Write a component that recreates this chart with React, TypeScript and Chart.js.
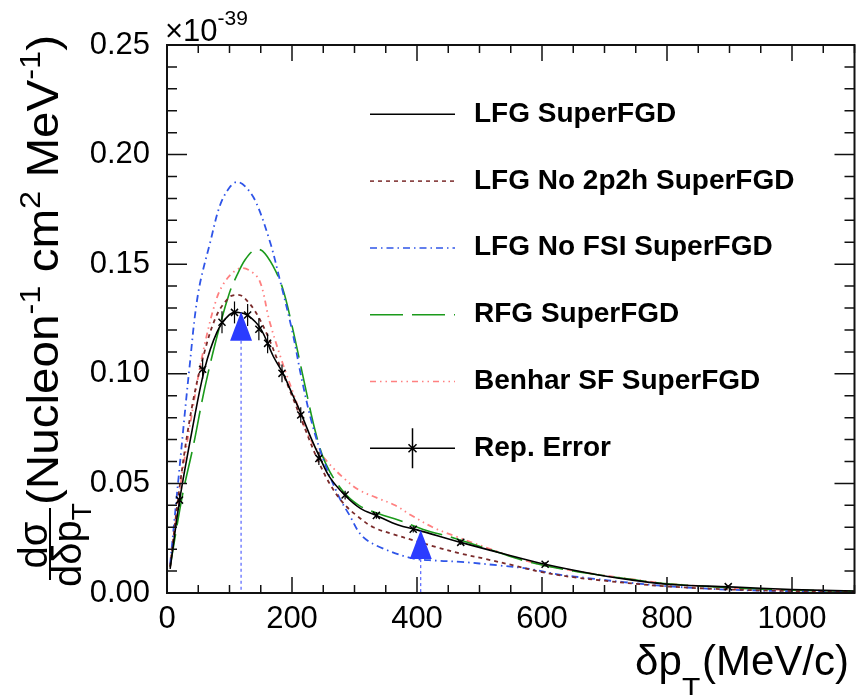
import React, { useEffect, useRef } from 'react';
import { Chart, registerables } from 'chart.js';
Chart.register(...registerables);

const FONT = '"Liberation Sans", Arial, Helvetica, sans-serif';

// x axis (MeV/c) and y axis (x10^-39) ranges / ticks
const xTickStep = 200;
const yTickStep = 0.05;

// LFG SuperFGD (black solid)
const lfgX = [5, 20, 40, 60, 80, 100, 115, 130, 150, 170, 185, 200, 215, 230, 245, 260, 285, 310, 335, 370, 400, 470, 540, 605, 680, 740, 800, 900, 1000, 1100];
const lfgY = [0.011, 0.042, 0.074, 0.102, 0.119, 0.127, 0.128, 0.1265, 0.1205, 0.108, 0.1005, 0.091, 0.0815, 0.071, 0.0615, 0.053, 0.0445, 0.0385, 0.0354, 0.031, 0.0288, 0.0231, 0.0178, 0.0131, 0.0088, 0.0061, 0.0040, 0.0028, 0.0016, 0.0009];

// LFG No 2p2h SuperFGD (dark red dashed)
const no2p2hX = [5, 20, 40, 60, 80, 100, 110, 120, 140, 160, 180, 200, 220, 240, 260, 282, 305, 330, 360, 395, 430, 470, 510, 556, 600, 650, 700, 750, 800, 900, 1000, 1100];
const no2p2hY = [0.012, 0.048, 0.085, 0.110, 0.127, 0.135, 0.136, 0.1355, 0.129, 0.118, 0.104, 0.090, 0.0755, 0.0615, 0.050, 0.041, 0.035, 0.030, 0.027, 0.024, 0.021, 0.018, 0.0155, 0.0125, 0.0095, 0.0072, 0.0056, 0.0042, 0.0030, 0.0016, 0.0009, 0.0005];

// LFG No FSI SuperFGD (blue dash-dot)
const noFsiX = [5, 20, 36, 50, 70, 85, 100, 112, 125, 142, 165, 180, 200, 216, 232, 250, 275, 292, 312, 340, 390, 430, 470, 530, 580, 625, 680, 730, 800, 900, 1000, 1100];
const noFsiY = [0.013, 0.057, 0.103, 0.137, 0.161, 0.177, 0.185, 0.1875, 0.1855, 0.1785, 0.160, 0.1435, 0.120, 0.097, 0.0774, 0.061, 0.044, 0.0355, 0.026, 0.021, 0.016, 0.0148, 0.0142, 0.0126, 0.0110, 0.0085, 0.0066, 0.0050, 0.0031, 0.0015, 0.0008, 0.0005];

// RFG SuperFGD (green long dash)
const rfgX = [5, 25, 42, 60, 80, 100, 112, 125, 140, 153, 170, 185, 200, 222, 238, 254, 280, 307, 340, 370, 410, 460, 520, 577, 650, 736, 800, 900, 1000, 1100];
const rfgY = [0.012, 0.045, 0.067, 0.093, 0.117, 0.137, 0.145, 0.152, 0.1565, 0.156, 0.149, 0.139, 0.122, 0.093, 0.073, 0.059, 0.047, 0.040, 0.036, 0.0333, 0.029, 0.025, 0.0195, 0.0143, 0.0100, 0.0065, 0.0042, 0.0024, 0.0013, 0.0008];

// Benhar SF SuperFGD (pink dash-dot-dot)
const benharX = [5, 20, 40, 57, 79, 95, 115, 130, 148, 164, 185, 206, 227, 254, 286, 307, 335, 365, 390, 425, 460, 520, 577, 650, 736, 800, 900, 1000, 1100];
const benharY = [0.012, 0.046, 0.082, 0.109, 0.134, 0.143, 0.148, 0.1475, 0.1425, 0.124, 0.1048, 0.088, 0.0713, 0.0607, 0.0516, 0.047, 0.0435, 0.040, 0.0356, 0.030, 0.026, 0.0198, 0.0145, 0.0102, 0.0066, 0.0043, 0.0024, 0.0013, 0.0008];

// Rep. Error points
const repX = [20, 57, 88, 108, 129, 147, 161, 184, 214, 243, 285, 335, 394, 470, 605, 898];
const repY = [0.0424, 0.1021, 0.1235, 0.128, 0.1268, 0.1203, 0.1139, 0.1002, 0.0812, 0.0614, 0.0447, 0.0354, 0.0291, 0.0231, 0.0131, 0.0029];
const repErr = [0.003, 0.0045, 0.005, 0.005, 0.005, 0.005, 0.0045, 0.004, 0.0035, 0.003, 0.002, 0.0015, 0.0015, 0.0012, 0.001, 0.0006];

// blue arrows (position, tip height)
const arrowX = [118.5, 406];
const arrowY = [0.1283, 0.0287];

const legendLabels = ['LFG SuperFGD', 'LFG No 2p2h SuperFGD', 'LFG No FSI SuperFGD', 'RFG SuperFGD', 'Benhar SF SuperFGD', 'Rep. Error'];

const pts = (xs: number[], ys: number[]) => xs.map((x, i) => ({ x, y: ys[i] }));

type Seg = { t: string; s: number; dy?: number; bold?: boolean };
function drawRich(ctx: CanvasRenderingContext2D, segs: Seg[], x: number, y: number) {
  let cx = x;
  for (const g of segs) {
    ctx.font = `${g.bold ? 'bold ' : ''}${g.s}px ${FONT}`;
    ctx.fillText(g.t, cx, y + (g.dy || 0));
    cx += ctx.measureText(g.t).width;
  }
  return cx - x;
}
function richWidth(ctx: CanvasRenderingContext2D, segs: Seg[]) {
  let w = 0;
  for (const g of segs) {
    ctx.font = `${g.bold ? 'bold ' : ''}${g.s}px ${FONT}`;
    w += ctx.measureText(g.t).width;
  }
  return w;
}

const rootStyle = {
  id: 'rootStyle',
  afterDatasetsDraw(chart: any) {
    const { ctx, chartArea: a, scales } = chart;
    const xs = scales.x, ys = scales.y;
    ctx.save();
    // error bars
    ctx.strokeStyle = '#000';
    ctx.lineWidth = 1.2;
    repX.forEach((v, i) => {
      const px = xs.getPixelForValue(v);
      ctx.beginPath();
      ctx.moveTo(px, ys.getPixelForValue(repY[i] - repErr[i]));
      ctx.lineTo(px, ys.getPixelForValue(repY[i] + repErr[i]));
      ctx.stroke();
    });
    // arrows
    arrowX.forEach((v, i) => {
      const px = xs.getPixelForValue(v);
      const py = ys.getPixelForValue(arrowY[i]);
      ctx.strokeStyle = '#3344ff';
      ctx.lineWidth = 1;
      ctx.setLineDash([3, 3]);
      ctx.beginPath();
      ctx.moveTo(px, py + 29);
      ctx.lineTo(px, a.bottom);
      ctx.stroke();
      ctx.setLineDash([]);
      ctx.fillStyle = '#2b3cff';
      ctx.beginPath();
      ctx.moveTo(px, py);
      ctx.lineTo(px - 11, py + 29);
      ctx.lineTo(px + 11, py + 29);
      ctx.closePath();
      ctx.fill();
    });
    // frame
    ctx.strokeStyle = '#111';
    ctx.lineWidth = 2;
    ctx.strokeRect(a.left, a.top, a.right - a.left, a.bottom - a.top);
    // ticks
    ctx.lineWidth = 1.5;
    ctx.beginPath();
    for (let v = 0; v <= 1100; v += 50) {
      const px = xs.getPixelForValue(v);
      const len = v % 200 === 0 ? 16 : 8;
      ctx.moveTo(px, a.bottom); ctx.lineTo(px, a.bottom - len);
      ctx.moveTo(px, a.top); ctx.lineTo(px, a.top + len);
    }
    for (let i = 0; i <= 25; i++) {
      const py = ys.getPixelForValue(i * 0.01);
      const len = i % 5 === 0 ? 20 : 10;
      ctx.moveTo(a.left, py); ctx.lineTo(a.left + len, py);
      ctx.moveTo(a.right, py); ctx.lineTo(a.right - len, py);
    }
    ctx.stroke();
    ctx.restore();
  },
  afterDraw(chart: any) {
    const { ctx } = chart;
    ctx.save();
    ctx.fillStyle = '#000';
    ctx.textBaseline = 'alphabetic';
    ctx.textAlign = 'left';
    // legend
    const ds = chart.data.datasets;
    const y0 = 114.3, step = 66.8;
    legendLabels.forEach((lab, i) => {
      const ly = y0 + i * step;
      const d = ds[i];
      ctx.save();
      ctx.strokeStyle = d.borderColor;
      ctx.lineWidth = 1.5;
      ctx.setLineDash(i === 5 ? [] : (d.borderDash || []));
      ctx.beginPath();
      ctx.moveTo(370, ly);
      ctx.lineTo(455, ly);
      ctx.stroke();
      ctx.setLineDash([]);
      if (i === 5) {
        ctx.beginPath();
        ctx.moveTo(412.5, ly - 20);
        ctx.lineTo(412.5, ly + 20);
        ctx.moveTo(408.5, ly - 4); ctx.lineTo(416.5, ly + 4);
        ctx.moveTo(408.5, ly + 4); ctx.lineTo(416.5, ly - 4);
        ctx.stroke();
      }
      ctx.restore();
      ctx.font = `bold 28px ${FONT}`;
      ctx.fillText(lab, 474, ly + 7.4);
    });
    // exponent label
    drawRich(ctx, [{ t: '\u00d710', s: 31 }, { t: '-39', s: 21, dy: -16 }], 165, 41);
    // x axis title
    drawRich(ctx, [{ t: '\u03b4p', s: 42 }], 635, 675);
    ctx.font = `30px ${FONT}`;
    ctx.fillText('T', 682, 698);
    drawRich(ctx, [{ t: '(MeV/c)', s: 42 }], 702, 675);
    // y axis title (rotated)
    ctx.save();
    ctx.rotate(-Math.PI / 2);
    // fraction: rotated coords (u = -screenY, v = screenX)
    const fc = 545;
    const num: Seg[] = [{ t: 'd\u03c3', s: 40 }];
    const den: Seg[] = [{ t: 'd\u03b4p', s: 40 }, { t: 'T', s: 28, dy: 10 }];
    const nw = richWidth(ctx, num), dw = richWidth(ctx, den);
    drawRich(ctx, num, -fc - nw / 2, 47);
    drawRich(ctx, den, -fc - dw / 2, 81);
    ctx.fillRect(-580, 49, 72, 2);
    const main: Seg[] = [
      { t: '(Nucleon', s: 44 }, { t: '-1', s: 30, dy: -18 },
      { t: ' cm', s: 44 }, { t: '2', s: 30, dy: -18 },
      { t: ' MeV', s: 44 }, { t: '-1', s: 30, dy: -18 },
      { t: ')', s: 44 },
    ];
    const mw = richWidth(ctx, main);
    const sc = Math.min(1.15, 470 / mw);
    ctx.save();
    ctx.translate(-505, 58);
    ctx.scale(sc, 1);
    drawRich(ctx, main, 0, 0);
    ctx.restore();
    ctx.restore();
    ctx.restore();
  },
};

export default function App() {
  const ref = useRef<HTMLCanvasElement>(null);
  useEffect(() => {
    const lineBase = { pointRadius: 0, fill: false, tension: 0.35 };
    const chart = new Chart(ref.current as HTMLCanvasElement, {
      type: 'line',
      data: {
        datasets: [
          { ...lineBase, label: legendLabels[0], data: pts(lfgX, lfgY), borderColor: '#000000', borderWidth: 1.6, order: 1 },
          { ...lineBase, label: legendLabels[1], data: pts(no2p2hX, no2p2hY), borderColor: '#7a2a2a', borderWidth: 1.8, borderDash: [4, 4], order: 2 },
          { ...lineBase, label: legendLabels[2], data: pts(noFsiX, noFsiY), borderColor: '#2f55e8', borderWidth: 1.8, borderDash: [7, 4, 1.5, 4], order: 3 },
          { ...lineBase, label: legendLabels[3], data: pts(rfgX, rfgY), borderColor: '#1b9a1b', borderWidth: 1.6, borderDash: [33, 9], order: 4 },
          { ...lineBase, label: legendLabels[4], data: pts(benharX, benharY), borderColor: '#ff8080', borderWidth: 1.8, borderDash: [6, 4, 1.5, 4, 1.5, 4], order: 5 },
          { label: legendLabels[5], data: pts(repX, repY), showLine: false, pointStyle: 'crossRot', pointRadius: 5, pointBorderWidth: 1.5, borderColor: '#000000', backgroundColor: '#000000', order: 0 },
        ],
      },
      options: {
        responsive: false,
        devicePixelRatio: 1,
        animation: false,
        layout: { padding: { top: 45, right: 3, left: 0, bottom: 0 } },
        plugins: { legend: { display: false }, tooltip: { enabled: false } },
        scales: {
          x: {
            type: 'linear', min: 0, max: 1100,
            ticks: { stepSize: xTickStep, includeBounds: false, color: '#000', padding: 8, font: { family: FONT, size: 31 }, maxRotation: 0, callback: (v: any) => String(v) },
            grid: { display: false, drawTicks: false },
            border: { display: false },
            afterFit: (s: any) => { s.height = 102; },
          },
          y: {
            type: 'linear', min: 0, max: 0.25,
            ticks: { stepSize: yTickStep, color: '#000', padding: 17, font: { family: FONT, size: 31 }, callback: (v: any) => Number(v).toFixed(2) },
            grid: { display: false, drawTicks: false },
            border: { display: false },
            afterFit: (s: any) => { s.width = 167; },
          },
        },
      },
      plugins: [rootStyle],
    });
    return () => chart.destroy();
  }, []);
  return (
    <div style={{ position: 'absolute', left: 0, top: 0, width: 861, height: 695, background: '#fff' }}>
      <canvas ref={ref} width={861} height={695} style={{ width: 861, height: 695, display: 'block' }} />
    </div>
  );
}
